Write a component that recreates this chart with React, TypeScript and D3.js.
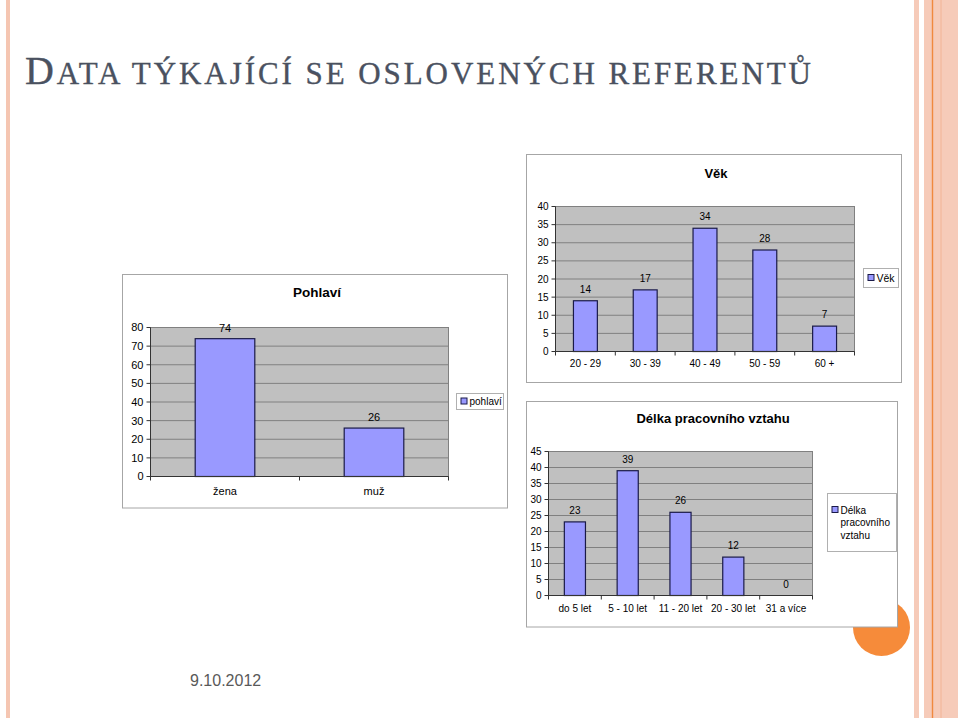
import React from 'react';
import * as d3 from 'd3';

// ---- data ----
const genderCategories = ['žena', 'muž'];
const genderValues = [74, 26];
const genderTicks = [0, 10, 20, 30, 40, 50, 60, 70, 80];

const ageCategories = ['20 - 29', '30 - 39', '40 - 49', '50 - 59', '60 +'];
const ageValues = [14, 17, 34, 28, 7];
const ageTicks = [0, 5, 10, 15, 20, 25, 30, 35, 40];

const tenureCategories = ['do 5 let', '5 - 10 let', '11 - 20 let', '20 - 30 let', '31 a více'];
const tenureValues = [23, 39, 26, 12, 0];
const tenureTicks = [0, 5, 10, 15, 20, 25, 30, 35, 40, 45];

const SANS = '"Liberation Sans", Arial, sans-serif';
const BAR_FILL = '#9999FF';
const BAR_STROKE = '#1a1a48';
const PLOT_FILL = '#C0C0C0';
const GRID = '#808080';

type ChartProps = {
  box: { x: number; y: number; w: number; h: number };
  plot: { x0: number; x1: number; yTop: number; yBottom: number };
  title: string;
  titlePos: [number, number];
  titleSize: number;
  fontSize: number;
  legendFont: number;
  categories: string[];
  values: number[];
  ticks: number[];
  catBaseline: number;
  labelGap: number;
  legend: { x: number; y: number; w: number; h: number; lines: string[]; lineH: number };
};

function BarChart(p: ChartProps) {
  const { box, plot, categories, values, ticks, fontSize } = p;
  const max = ticks[ticks.length - 1];
  const y = d3.scaleLinear().domain([0, max]).range([plot.yBottom, plot.yTop]);
  const x = d3
    .scaleBand<string>()
    .domain(categories)
    .range([plot.x0, plot.x1])
    .paddingInner(0.6)
    .paddingOuter(0.3);
  const step = (plot.x1 - plot.x0) / categories.length;
  const lg = p.legend;
  return (
    <g>
      <rect x={box.x} y={box.y} width={box.w} height={box.h} fill="#fff" stroke="#a6a6a6" strokeWidth={1} />
      <text
        x={p.titlePos[0]}
        y={p.titlePos[1]}
        textAnchor="middle"
        fontFamily={SANS}
        fontWeight="bold"
        fontSize={p.titleSize}
        fill="#000"
      >
        {p.title}
      </text>
      <rect
        x={plot.x0}
        y={plot.yTop}
        width={plot.x1 - plot.x0}
        height={plot.yBottom - plot.yTop}
        fill={PLOT_FILL}
        stroke={GRID}
        strokeWidth={1}
      />
      {ticks
        .filter((t) => t > 0)
        .map((t) => (
          <line key={'g' + t} x1={plot.x0} x2={plot.x1} y1={y(t)} y2={y(t)} stroke={GRID} strokeWidth={1} />
        ))}
      {categories.map((c, i) => {
        const v = values[i];
        const top = y(v);
        return (
          <g key={c}>
            {v > 0 && (
              <rect
                x={x(c)}
                y={top}
                width={x.bandwidth()}
                height={plot.yBottom - top}
                fill={BAR_FILL}
                stroke={BAR_STROKE}
                strokeWidth={1.2}
              />
            )}
            <text
              x={(x(c) as number) + x.bandwidth() / 2}
              y={top - p.labelGap}
              textAnchor="middle"
              fontFamily={SANS}
              fontSize={fontSize}
              fill="#000"
            >
              {v}
            </text>
            <text
              x={(x(c) as number) + x.bandwidth() / 2}
              y={p.catBaseline}
              textAnchor="middle"
              fontFamily={SANS}
              fontSize={fontSize}
              fill="#000"
            >
              {c}
            </text>
          </g>
        );
      })}
      {/* y axis */}
      <line x1={plot.x0} x2={plot.x0} y1={plot.yTop} y2={plot.yBottom} stroke="#333" strokeWidth={1} />
      {ticks.map((t) => (
        <g key={'t' + t}>
          <line x1={plot.x0 - 4} x2={plot.x0} y1={y(t)} y2={y(t)} stroke="#333" strokeWidth={1} />
          <text
            x={plot.x0 - 7}
            y={y(t) + fontSize * 0.36}
            textAnchor="end"
            fontFamily={SANS}
            fontSize={fontSize}
            fill="#000"
          >
            {t}
          </text>
        </g>
      ))}
      {/* x axis */}
      <line x1={plot.x0} x2={plot.x1} y1={plot.yBottom} y2={plot.yBottom} stroke="#333" strokeWidth={1} />
      {d3.range(categories.length + 1).map((i) => (
        <line
          key={'xt' + i}
          x1={plot.x0 + i * step}
          x2={plot.x0 + i * step}
          y1={plot.yBottom}
          y2={plot.yBottom + 4}
          stroke="#333"
          strokeWidth={1}
        />
      ))}
      {/* legend */}
      <rect x={lg.x} y={lg.y} width={lg.w} height={lg.h} fill="#fff" stroke="#b0b0b0" strokeWidth={1} />
      <rect
        x={lg.x + 4.5}
        y={lg.y + lg.h / 2 - (lg.lines.length - 1) * lg.lineH / 2 - 3.5}
        width={6}
        height={6}
        fill={BAR_FILL}
        stroke={BAR_STROKE}
        strokeWidth={1}
      />
      {lg.lines.map((l, i) => (
        <text
          key={l}
          x={lg.x + 13}
          y={lg.y + lg.h / 2 - (lg.lines.length - 1) * lg.lineH / 2 + i * lg.lineH + 3.5}
          fontFamily={SANS}
          fontSize={p.legendFont}
          fill="#000"
        >
          {l}
        </text>
      ))}
    </g>
  );
}

export default function App() {
  return (
    <svg
      width={960}
      height={720}
      viewBox="0 0 960 720"
      style={{ position: 'absolute', left: 0, top: 0, background: '#fff' }}
    >
      <rect x={0} y={0} width={960} height={720} fill="#fff" />
      {/* decorative stripes */}
      <rect x={6} y={0} width={4} height={718} fill="#f5c6b2" />
      <rect x={914} y={0} width={5} height={718} fill="#f6cbb9" />
      <rect x={924} y={0} width={34} height={718} fill="#f6cbb9" />
      <line x1={932.5} x2={932.5} y1={0} y2={718} stroke="#f0893f" strokeWidth={1.4} />
      <line x1={941} x2={941} y1={0} y2={718} stroke="#f2b496" strokeWidth={1} />

      {/* title */}
      <text
        x={25}
        y={84}
        fontFamily='"Liberation Serif", "Times New Roman", serif'
        fill="#4a5160"
        stroke="#4a5160"
        strokeWidth={0.35}
        textLength={786}
        lengthAdjust="spacing"
      >
        <tspan fontSize={40}>D</tspan>
        <tspan fontSize={31}>ATA TÝKAJÍCÍ SE OSLOVENÝCH REFERENTŮ</tspan>
      </text>

      <BarChart
        box={{ x: 122.5, y: 274.5, w: 385, h: 233.5 }}
        plot={{ x0: 150.5, x1: 448.5, yTop: 327.5, yBottom: 476.5 }}
        title="Pohlaví"
        titlePos={[317, 297]}
        titleSize={13.5}
        fontSize={11}
        legendFont={10}
        categories={genderCategories}
        values={genderValues}
        ticks={genderTicks}
        catBaseline={495}
        labelGap={7}
        legend={{ x: 456.5, y: 393.5, w: 47, h: 16, lines: ['pohlaví'], lineH: 12 }}
      />

      <BarChart
        box={{ x: 526.5, y: 154.5, w: 375, h: 228 }}
        plot={{ x0: 555.5, x1: 854.5, yTop: 206.5, yBottom: 351.5 }}
        title="Věk"
        titlePos={[716, 178]}
        titleSize={13}
        fontSize={10}
        legendFont={10.5}
        categories={ageCategories}
        values={ageValues}
        ticks={ageTicks}
        catBaseline={367}
        labelGap={8}
        legend={{ x: 863.5, y: 268.5, w: 35, h: 19, lines: ['Věk'], lineH: 12 }}
      />

      <circle cx={881.5} cy={627.5} r={28.5} fill="#F68B3A" />

      <BarChart
        box={{ x: 526.5, y: 401.5, w: 371, h: 225.5 }}
        plot={{ x0: 548.5, x1: 812.5, yTop: 451.5, yBottom: 595.5 }}
        title="Délka pracovního vztahu"
        titlePos={[713, 423]}
        titleSize={13}
        fontSize={10}
        legendFont={10}
        categories={tenureCategories}
        values={tenureValues}
        ticks={tenureTicks}
        catBaseline={612}
        labelGap={8}
        legend={{ x: 827.5, y: 493.5, w: 69, h: 58, lines: ['Délka', 'pracovního', 'vztahu'], lineH: 12.5 }}
      />

      <text x={190} y={686} fontFamily={SANS} fontSize={16} fill="#595959">
        9.10.2012
      </text>
    </svg>
  );
}
